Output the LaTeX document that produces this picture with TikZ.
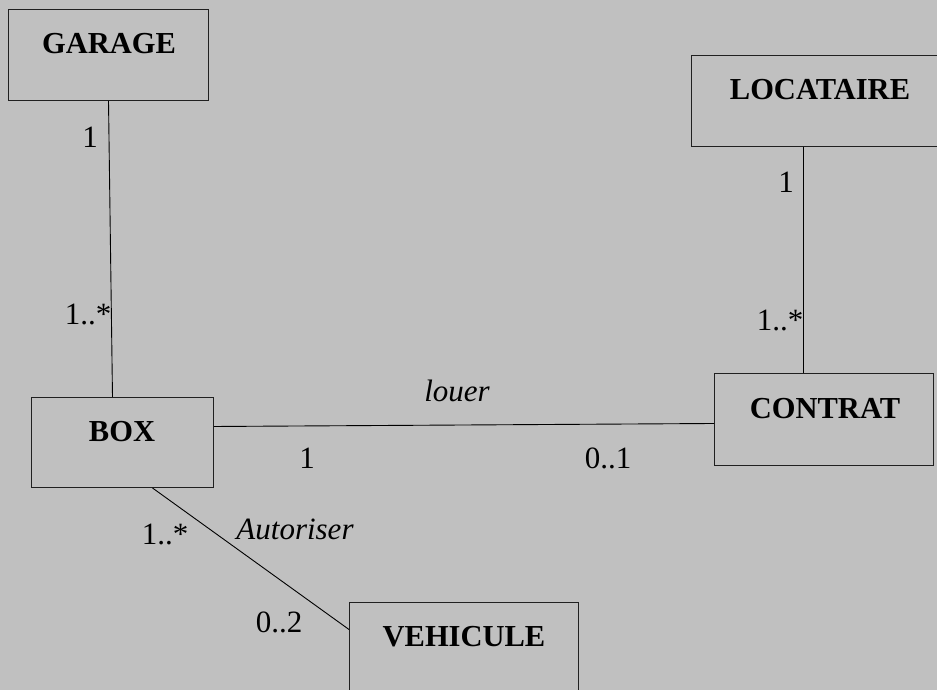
\documentclass[tikz,border=0pt]{standalone}
\usepackage{fontspec}
\setmainfont{Liberation Serif}
\definecolor{bggray}{HTML}{C0C0C0}
\definecolor{edge}{HTML}{202020}
\begin{document}
\begin{tikzpicture}[x=1pt,y=1pt,
  cls/.style={draw=edge, line width=1pt, rectangle, inner sep=0pt, anchor=north west},
  ttl/.style={font=\fontsize{30.5}{36}\selectfont\bfseries, anchor=base, inner sep=0pt},
  mult/.style={font=\fontsize{31}{37}\selectfont, anchor=base, inner sep=0pt},
  role/.style={font=\fontsize{31}{37}\selectfont\itshape, anchor=base, inner sep=0pt},
  link/.style={draw=black, line width=0.9pt}]
\fill[bggray] (0,0) rectangle (937,690);
\useasboundingbox (0,0) rectangle (937,690);

% classes
\node[cls, minimum width=200pt, minimum height=91pt] (garage) at (8,681) {};
\node[cls, minimum width=250pt, minimum height=91pt] (locataire) at (691,635) {};
\node[cls, minimum width=182pt, minimum height=90pt] (box) at (31,293) {};
\node[cls, minimum width=219pt, minimum height=92pt] (contrat) at (714,317) {};
\node[cls, minimum width=229pt, minimum height=94pt] (vehicule) at (349,88) {};

% titles
\node[ttl] (tgarage) at (109,636) {GARAGE};
\node[ttl] (tlocataire) at (820,590) {LOCATAIRE};
\node[ttl] (tbox) at (122,248) {BOX};
\node[ttl] (tcontrat) at (825,271) {CONTRAT};
\node[ttl] (tvehicule) at (464,43) {VEHICULE};

% connectors
\draw[link] (garage.south) -- ([xshift=-10pt]box.north);
\draw[link] ([xshift=-13pt]locataire.south) -- ([xshift=-20.5pt]contrat.north);
\draw[link] ([yshift=16pt]box.east) -- ([yshift=-4pt]contrat.west);
\draw[link] ([xshift=30pt]box.south) -- ([yshift=20pt]vehicule.west);

% multiplicities and roles
\node[mult] (m1) at (90,542) {1};
\node[mult] (m2) at (88,365) {1..*};
\node[mult] (m3) at (786,497) {1};
\node[mult] (m4) at (780,359) {1..*};
\node[role] (r1) at (457,288) {louer};
\node[mult] (m5) at (307,221) {1};
\node[mult] (m6) at (608,221) {0..1};
\node[mult] (m7) at (165,145) {1..*};
\node[role] (r2) at (295,150) {Autoriser};
\node[mult] (m8) at (279,57) {0..2};
\end{tikzpicture}
\end{document}
